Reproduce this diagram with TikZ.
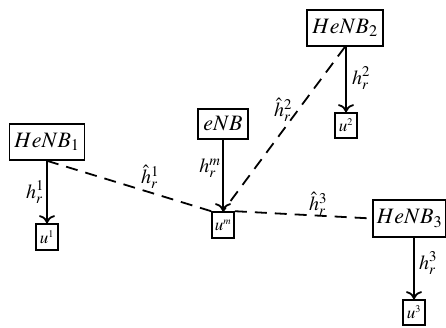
\documentclass[tikz,border=0pt]{standalone}
\usepackage{mathptmx}
\usetikzlibrary{arrows.meta}
\tikzset{
  bigbox/.style={draw, line width=1.6pt, inner sep=0pt, font=\fontsize{22}{24}\selectfont},
  ubox/.style={draw, line width=1.6pt, inner sep=0pt, minimum width=22pt, minimum height=26pt, font=\fontsize{17}{19}\selectfont},
  link/.style={line width=1.8pt, -{To[length=8pt,width=16pt]}},
  wl/.style={line width=1.8pt, dash pattern=on 12pt off 8pt},
  lab/.style={font=\fontsize{20}{22}\selectfont, inner sep=0pt}
}
\begin{document}
\begin{tikzpicture}[x=1pt,y=-1pt]
\useasboundingbox (0,0) rectangle (446,327);
% base stations
\node[bigbox, minimum width=75pt, minimum height=36pt] (h1) at (47,142) {$HeNB_1$};
\node[bigbox, minimum width=50pt, minimum height=30pt] (e) at (223,124) {$eNB$};
\node[bigbox, minimum width=76pt, minimum height=36pt] (h2) at (345,28) {$HeNB_2$};
\node[bigbox, minimum width=73pt, minimum height=37pt] (h3) at (409.5,218.5) {$HeNB_3$};
% users
\node[ubox] (u1) at (47,237) {$u^{\scriptscriptstyle 1}$};
\node[ubox] (um) at (223,225) {$u^{\scriptscriptstyle m}$};
\node[ubox, minimum height=25pt] (u2) at (346,125.5) {$u^{\scriptscriptstyle 2}$};
\node[ubox, minimum height=25pt] (u3) at (414,312.5) {$u^{\scriptscriptstyle 3}$};
% direct links
\draw[link] (h1.south) -- (u1.north);
\draw[link] (e.south) -- (um.north);
\draw[link] (h2.south -| u2.north) -- (u2.north);
\draw[link] (h3.south -| u3.north) -- (u3.north);
% interference links
\draw[wl] (h1.south) -- (um.north west);
\draw[wl] (h2.south) -- (um.north);
\draw[wl] (um.north east) -- (h3.west);
% labels
\node[lab] (l1) at (35,192) {$h_r^1$};
\node[lab] (lm) at (210,168) {$h_r^m$};
\node[lab] (l2) at (361,78) {$h_r^2$};
\node[lab] (l3) at (428,263) {$h_r^3$};
\node[lab] (g1) at (150,177) {$\hat{h}_r^1$};
\node[lab] (g2) at (283,110) {$\hat{h}_r^2$};
\node[lab] (g3) at (318,204) {$\hat{h}_r^3$};
\end{tikzpicture}
\end{document}
